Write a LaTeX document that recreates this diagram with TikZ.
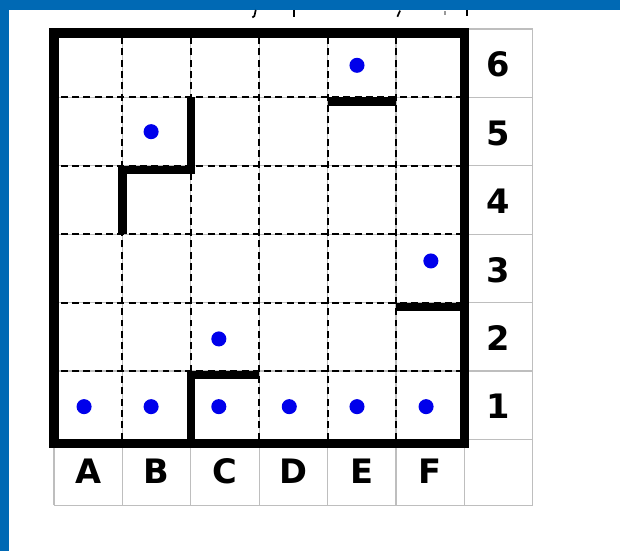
\documentclass[tikz,border=0pt]{standalone}
\usepackage{fontspec}
\setmainfont{DejaVu Sans}
\usepackage{xcolor}
\usetikzlibrary{positioning}
\definecolor{frameblue}{RGB}{0,105,180}
\definecolor{dotblue}{RGB}{0,0,235}
\definecolor{cellgray}{RGB}{190,190,190}

\begin{document}
\begin{tikzpicture}[
    gridline/.style={draw=cellgray, line width=0.5pt},
    dashline/.style={draw=black, line width=0.85pt, dash pattern=on 2.9pt off 1.8pt},
    border/.style={draw=black, line width=4pt, line join=miter},
    wall/.style={draw=black, line width=3.5pt, line cap=butt, line join=miter},
    coin/.style={circle, fill=dotblue, inner sep=0pt, minimum size=0.22cm},
    lbl/.style={font=\fontsize{14}{17}\selectfont\bfseries, inner sep=0pt},
    scrap/.style={draw=black, line width=0.7pt}
]
\useasboundingbox (-0.789,-1.630) rectangle (8.275,6.425);

% ------- Frame -------
\fill[frameblue] (-0.789,6.279) rectangle (8.275,6.425);
\fill[frameblue] (-0.789,-1.630) rectangle (-0.657,6.425);

% cut off text at the top
\draw[scrap] (2.95,6.28) -- (2.93,6.19) -- (2.90,6.17);
\draw[scrap] (3.51,6.28) -- (3.51,6.18);
\draw[scrap] (5.06,6.27) -- (5.02,6.18);
\draw[scrap, draw=black!40] (5.72,6.26) -- (5.72,6.21);
\draw[scrap] (6.04,6.28) -- (6.04,6.19);

% ------- Gray table -------
\foreach \x in {0,...,7} {
    \draw[gridline] (\x,-0.96) -- (\x,6);
}
\foreach \y in {0,...,6} {
    \draw[gridline] (0,\y) -- (7,\y);
}
\draw[gridline] (0,-0.96) -- (7,-0.96);

% ------- Dashed cell lines -------
\foreach \k in {1,...,5} {
    \draw[dashline] (\k,0) -- (\k,5.9);
    \draw[dashline] (0.1,\k) -- (5.95,\k);
}

% ------- Outer border -------
\draw[border] (0,-0.06) rectangle (6,5.94);

% ------- Walls -------
\draw[wall] (1,3) -- (1,3.94) -- (2,3.94) -- (2,5);
\draw[wall] (4,4.94) -- (5,4.94);
\draw[wall] (5,1.94) -- (6,1.94);
\draw[wall] (2,0) -- (2,0.94) -- (3,0.94);

% ------- Coins -------
\node[coin] (e6) at (4.43,5.47) {};
\node[coin] (b5) at (1.42,4.50) {};
\node[coin] (f3) at (5.51,2.61) {};
\node[coin] (c2) at (2.41,1.47) {};
\foreach \c/\x in {a/0.44, b/1.42, c/2.41, d/3.44, e/4.43, f/5.44} {
    \node[coin] (\c1) at (\x,0.48) {};
}

% ------- Labels -------
\foreach \c [count=\i from 0] in {A,B,C,D,E,F} {
    \node[lbl] (col\c) at (\i+0.5,-0.47) {\c};
}
\foreach \r in {1,...,6} {
    \node[lbl] (row\r) at (6.5,\r-0.52) {\r};
}
\end{tikzpicture}
\end{document}
